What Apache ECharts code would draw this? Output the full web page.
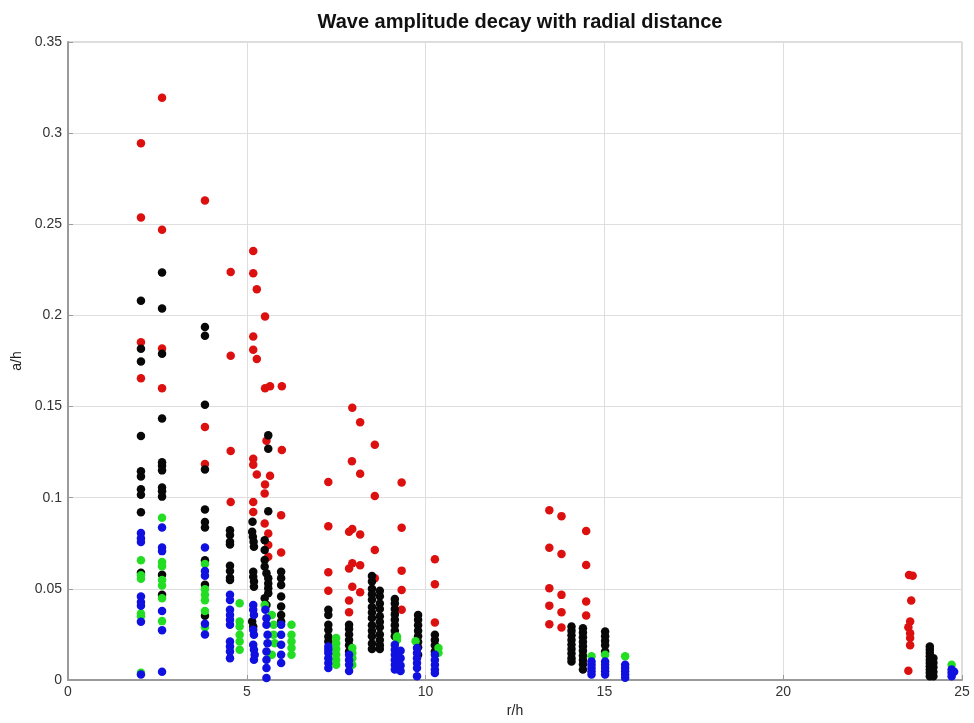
<!DOCTYPE html>
<html>
<head>
<meta charset="utf-8">
<script src="https://cdn.jsdelivr.net/npm/echarts@6/dist/echarts.min.js"></script>
<style>
  html, body { margin: 0; padding: 0; background: #fff; }
  #chart { width: 974px; height: 723px; }
</style>
</head>
<body>
<div id="chart"></div>
<script>
// Measured wave amplitude (a/h) against radial distance (r/h), one array per gauge group.
const redPts = [
  [2.04,0.2944],[2.04,0.2537],[2.04,0.1853],[2.04,0.1655],
  [2.63,0.3194],[2.63,0.247],[2.63,0.1819],[2.63,0.160],
  [3.83,0.263],[3.83,0.1388],[3.83,0.1185],
  [4.55,0.2238],[4.55,0.1779],[4.55,0.1256],[4.55,0.0977],
  [5.18,0.2353],[5.18,0.2231],[5.28,0.2144],[5.51,0.1994],[5.18,0.1885],[5.18,0.1812],[5.28,0.1761],
  [5.51,0.1601],[5.65,0.1612],[5.98,0.1612],[5.55,0.1312],[5.98,0.1262],[5.18,0.1214],[5.18,0.1181],
  [5.28,0.1127],[5.65,0.112],[5.51,0.1072],[5.5,0.1023],[5.18,0.0977],[5.18,0.0922],[5.96,0.0904],
  [5.5,0.0858],[5.6,0.0804],[5.6,0.074],[5.96,0.07],[5.6,0.0676],
  [7.28,0.1086],[7.28,0.0844],[7.28,0.0591],[7.28,0.0489],
  [7.95,0.1493],[8.17,0.1414],[7.94,0.12],[8.17,0.1132],[7.86,0.0813],[7.95,0.0828],[8.17,0.0798],
  [7.95,0.064],[7.86,0.0612],[8.17,0.063],[7.95,0.0512],[8.17,0.0481],[7.86,0.0436],[7.86,0.0372],
  [8.58,0.129],[8.58,0.101],[8.58,0.0713],[8.58,0.0558],
  [9.33,0.1083],[9.33,0.0835],[9.33,0.06],[9.33,0.0494],[9.33,0.0385],
  [10.26,0.0663],[10.26,0.0525],[10.26,0.0315],
  [13.46,0.0931],[13.8,0.0899],[14.49,0.0817],[13.46,0.0725],[13.8,0.0691],[14.49,0.0631],
  [13.46,0.0503],[13.8,0.0467],[13.46,0.0408],[13.8,0.0372],[14.49,0.043],[14.49,0.0354],
  [13.46,0.0306],[13.8,0.0288],
  [23.52,0.0576],[23.62,0.0572],[23.58,0.0436],[23.55,0.0321],[23.5,0.029],[23.55,0.0257],
  [23.55,0.023],[23.55,0.019],[23.5,0.0051]
];

const blackPts = [
  [2.04,0.208],[2.04,0.1817],[2.04,0.1747],[2.04,0.1339],[2.04,0.1145],[2.04,0.1116],[2.04,0.1046],
  [2.04,0.1016],[2.04,0.092],[2.04,0.0588],
  [2.63,0.2235],[2.63,0.2038],[2.63,0.179],[2.63,0.1434],[2.63,0.1195],[2.63,0.1175],[2.63,0.115],
  [2.63,0.1056],[2.63,0.1036],[2.63,0.1006],[2.63,0.0578],[2.63,0.0468],
  [3.83,0.1936],[3.83,0.1888],[3.83,0.151],[3.83,0.1155],[3.83,0.0936],[3.83,0.0867],[3.83,0.0837],
  [3.83,0.0657],[3.83,0.0522],[3.83,0.0353],
  [4.53,0.0822],[4.53,0.0795],[4.53,0.0758],[4.53,0.0744],[4.53,0.0627],[4.53,0.0598],[4.53,0.0561],[4.53,0.0549],
  [5.16,0.0868],[5.15,0.0813],[5.17,0.0786],[5.19,0.0758],[5.2,0.0731],[5.18,0.0594],[5.18,0.0567],
  [5.2,0.054],[5.2,0.0512],[5.15,0.0321],[5.18,0.0293],
  [5.6,0.1342],[5.6,0.1269],[5.6,0.0926],[5.5,0.0767],[5.5,0.0713],[5.5,0.0658],[5.5,0.0622],
  [5.55,0.0585],[5.6,0.0558],[5.6,0.053],[5.6,0.0503],[5.6,0.0476],[5.5,0.0448],[5.55,0.0412],
  [5.96,0.0594],[5.96,0.0558],[5.96,0.0521],[5.96,0.0458],[5.96,0.0403],[5.96,0.0357],[5.96,0.0321],
  [7.28,0.0385],[7.28,0.0357],[7.28,0.0303],[7.28,0.0275],[7.28,0.0239],[7.28,0.0211],
  [7.86,0.0303],[7.86,0.028],[7.86,0.025],[7.86,0.022],[7.86,0.019],[7.86,0.0157],
  [8.5,0.057],[8.5,0.054],[8.5,0.05],[8.5,0.047],[8.5,0.044],[8.5,0.04],[8.5,0.037],[8.5,0.034],
  [8.5,0.03],[8.5,0.027],[8.5,0.024],[8.5,0.02],[8.5,0.017],
  [8.72,0.049],[8.72,0.046],[8.72,0.042],[8.72,0.039],[8.72,0.035],[8.72,0.032],[8.72,0.029],
  [8.72,0.025],[8.72,0.022],[8.72,0.019],[8.72,0.017],
  [9.14,0.0445],[9.14,0.042],[9.14,0.039],[9.14,0.036],[9.14,0.033],[9.14,0.030],[9.14,0.027],[9.14,0.024],
  [9.79,0.0357],[9.79,0.033],[9.79,0.030],[9.79,0.027],[9.79,0.024],[9.79,0.021],[9.79,0.018],[9.79,0.0139],
  [10.26,0.0248],[10.26,0.022],[10.26,0.019],[10.26,0.0157],
  [14.08,0.0293],[14.08,0.027],[14.08,0.0245],[14.08,0.022],[14.08,0.0195],[14.08,0.017],[14.08,0.0145],
  [14.08,0.012],[14.08,0.0102],
  [14.4,0.0284],[14.4,0.026],[14.4,0.0235],[14.4,0.021],[14.4,0.0185],[14.4,0.016],[14.4,0.0135],
  [14.4,0.011],[14.4,0.0086],[14.4,0.0057],
  [15.02,0.0266],[15.02,0.024],[15.02,0.0215],[15.02,0.019],[15.02,0.0157],
  [24.1,0.0184],[24.1,0.0166],[24.1,0.0148],[24.1,0.013],[24.1,0.011],[24.1,0.0093],[24.1,0.0075],
  [24.1,0.0057],[24.1,0.004],[24.1,0.002],
  [24.2,0.012],[24.2,0.0095],[24.2,0.007],[24.2,0.0045],[24.2,0.002]
];

const greenPts = [
  [2.04,0.0657],[2.04,0.0575],[2.04,0.0555],[2.04,0.0365],[2.04,0.035],[2.04,0.004],
  [2.63,0.089],[2.63,0.0647],[2.63,0.0624],[2.63,0.0548],[2.63,0.0518],[2.63,0.0448],[2.63,0.0323],
  [3.83,0.0637],[3.83,0.0498],[3.83,0.0468],[3.83,0.0438],[3.83,0.0378],[3.83,0.0289],
  [4.8,0.0421],[4.8,0.0321],[4.8,0.0293],[4.8,0.0248],[4.8,0.0211],[4.8,0.0166],
  [5.5,0.0412],[5.7,0.0357],[5.75,0.0303],[5.75,0.0248],[5.78,0.0202],[5.7,0.0139],
  [6.25,0.0303],[6.25,0.0248],[6.25,0.0211],[6.25,0.0175],[6.25,0.0139],
  [7.5,0.023],[7.5,0.02],[7.5,0.017],[7.5,0.014],[7.5,0.011],[7.5,0.0084],
  [7.95,0.0175],[7.95,0.0148],[7.95,0.012],[7.95,0.0084],
  [9.2,0.0239],[9.2,0.022],
  [9.72,0.0212],
  [10.36,0.0175],[10.36,0.015],
  [14.64,0.013],[15.02,0.0139],[15.58,0.013],
  [24.71,0.0084]
];

const bluePts = [
  [2.04,0.0807],[2.04,0.0777],[2.04,0.0757],[2.04,0.0458],[2.04,0.0428],[2.04,0.0408],[2.04,0.0319],[2.04,0.003],
  [2.63,0.0837],[2.63,0.0727],[2.63,0.0707],[2.63,0.0378],[2.63,0.0273],[2.63,0.0045],
  [3.83,0.0727],[3.83,0.0598],[3.83,0.0572],[3.83,0.0309],[3.83,0.0249],
  [4.53,0.0467],[4.53,0.0439],[4.53,0.0385],[4.53,0.0357],[4.53,0.033],[4.53,0.0303],
  [4.53,0.0211],[4.53,0.0184],[4.53,0.0157],[4.53,0.012],
  [5.18,0.0412],[5.18,0.0385],[5.2,0.0357],[5.18,0.0275],[5.2,0.0248],[5.18,0.0193],[5.2,0.0166],
  [5.22,0.0139],[5.2,0.0111],
  [5.52,0.0385],[5.55,0.0339],[5.55,0.0303],
  [5.58,0.0248],[5.58,0.0202],[5.55,0.0157],[5.55,0.0111],[5.55,0.0066],[5.55,0.0011],
  [5.96,0.0303],[5.96,0.0248],[5.96,0.0193],[5.96,0.0139],[5.96,0.0093],
  [7.28,0.0184],[7.28,0.0166],[7.28,0.0148],[7.28,0.012],[7.28,0.0093],[7.28,0.0066],
  [7.86,0.0139],[7.86,0.011],[7.86,0.0084],[7.86,0.005],
  [9.14,0.0193],[9.14,0.0166],[9.14,0.0139],[9.14,0.011],[9.14,0.0084],[9.14,0.0057],
  [9.3,0.016],[9.3,0.012],[9.3,0.008],[9.3,0.005],
  [9.76,0.0175],[9.76,0.0148],[9.76,0.012],[9.76,0.0093],[9.76,0.0066],[9.76,0.002],
  [10.26,0.0139],[10.26,0.011],[10.26,0.0084],[10.26,0.0057],[10.26,0.0038],
  [14.64,0.0102],[14.64,0.0084],[14.64,0.0066],[14.64,0.0048],[14.64,0.003],
  [15.02,0.0102],[15.02,0.0084],[15.02,0.0066],[15.02,0.0048],[15.02,0.003],
  [15.58,0.0084],[15.58,0.0066],[15.58,0.0048],[15.58,0.003],[15.58,0.0012],
  [24.71,0.0057],[24.71,0.004],[24.71,0.002],[24.78,0.0045]
];

const xTicks = [0, 5, 10, 15, 20, 25];
const yTicks = [0, 0.05, 0.1, 0.15, 0.2, 0.25, 0.3, 0.35];

const chart = echarts.init(document.getElementById('chart'));
const font = 'Liberation Sans, Arial, sans-serif';

function dots(name, data, color) {
  return {
    name: name,
    type: 'scatter',
    data: data,
    symbol: 'circle',
    symbolSize: 8.5,
    itemStyle: { color: color, opacity: 1 },
    emphasis: { disabled: true },
    animation: false
  };
}

chart.setOption({
  backgroundColor: '#ffffff',
  animation: false,
  title: {
    text: 'Wave amplitude decay with radial distance',
    left: 515,
    top: 7,
    textAlign: 'center',
    textStyle: { fontFamily: font, fontSize: 20, fontWeight: 'bold', color: '#111' }
  },
  grid: {
    left: 68, right: 12, top: 42, bottom: 41,
    show: true, borderColor: '#b8b8b8', borderWidth: 1, backgroundColor: 'transparent'
  },
  xAxis: {
    type: 'value',
    min: xTicks[0], max: xTicks[xTicks.length - 1], interval: 5,
    name: 'r/h', nameLocation: 'middle', nameGap: 24,
    nameTextStyle: { fontFamily: font, fontSize: 14, color: '#222' },
    axisLine: { show: true, lineStyle: { color: '#9a9a9a', width: 2 } },
    axisTick: { show: true, inside: true, length: 5, lineStyle: { color: '#9a9a9a' } },
    axisLabel: { fontFamily: font, fontSize: 14, color: '#333', margin: 5 },
    splitLine: { show: true, lineStyle: { color: '#dedede', width: 1 } }
  },
  yAxis: {
    type: 'value',
    min: yTicks[0], max: yTicks[yTicks.length - 1], interval: 0.05,
    name: 'a/h', nameLocation: 'middle', nameGap: 44, nameRotate: 90,
    nameTextStyle: { fontFamily: font, fontSize: 14, color: '#222' },
    axisLine: { show: true, lineStyle: { color: '#9a9a9a', width: 2 } },
    axisTick: { show: true, inside: true, length: 5, lineStyle: { color: '#9a9a9a' } },
    axisLabel: {
      fontFamily: font, fontSize: 14, color: '#333', margin: 6,
      formatter: function (v) { return String(parseFloat(v.toFixed(2))); }
    },
    splitLine: { show: true, lineStyle: { color: '#dedede', width: 1 } }
  },
  series: [
    dots('red', redPts, '#dd1010'),
    dots('black', blackPts, '#080808'),
    dots('green', greenPts, '#22dd22'),
    dots('blue', bluePts, '#1010e0')
  ]
});
</script>
</body>
</html>
